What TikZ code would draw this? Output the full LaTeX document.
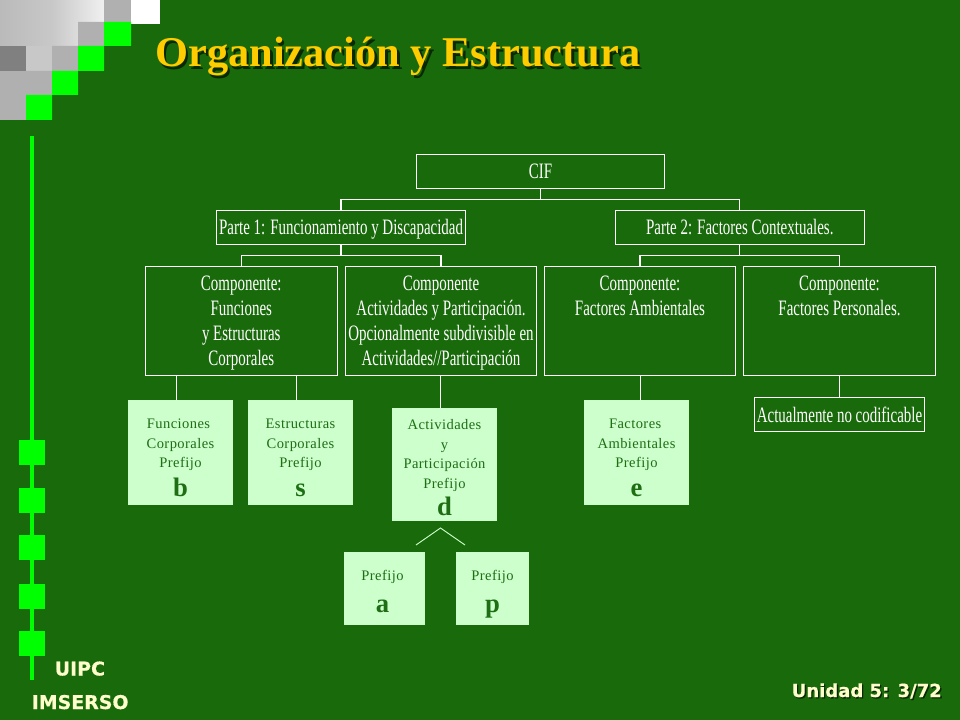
\documentclass[tikz,border=0pt]{standalone}
\usepackage{fontspec}
\setmainfont{Liberation Serif}
\newfontfamily\condfont[FakeStretch=0.68]{Liberation Serif}
\newfontfamily\spacedfont[LetterSpace=3]{Liberation Serif}
\newfontfamily\uifont[BoldFeatures={FakeBold=0.5}]{DejaVu Sans}
\definecolor{bgc}{RGB}{25,106,11}
\definecolor{lime}{RGB}{0,255,0}
\definecolor{pale}{RGB}{204,255,204}
\definecolor{inktext}{RGB}{30,110,20}
\definecolor{cream}{RGB}{255,255,204}
\definecolor{gold}{RGB}{255,204,0}
\definecolor{gmid}{RGB}{176,176,176}
\definecolor{gdark}{RGB}{128,128,128}
\definecolor{gA}{RGB}{186,186,186}
\definecolor{gB}{RGB}{200,200,200}
\definecolor{gC}{RGB}{240,240,240}
\definecolor{shadowc}{RGB}{10,40,5}
\tikzset{
  outline/.style={draw=white,line width=1pt,text=white,inner sep=0pt,align=center,
    font=\condfont\fontsize{16.5}{18.6}\selectfont},
  palebox/.style={fill=pale,inner sep=0pt,align=center,text=inktext,
    font=\spacedfont\fontsize{10.9}{14.6}\selectfont},
  link/.style={draw=white,line width=1pt},
  footer/.style={font=\uifont\bfseries\fontsize{14.2}{15}\selectfont,text=cream,inner sep=0pt},
}
\newcommand{\letr}[1]{\smash{\rmfamily\bfseries\fontsize{20}{20}\selectfont #1}}
\newcommand{\tstrut}[1]{\rule{0pt}{#1}}
\newcommand{\shadowed}[3]{\makebox[0pt][l]{\hspace*{#1}\raisebox{-#1}{\textcolor{shadowc}{#3}}}#3}
\begin{document}
\begin{tikzpicture}[x=0.75pt,y=-0.75pt]
\useasboundingbox (0,0) rectangle (960,720);
\fill[bgc] (0,0) rectangle (960,720);
% corner mosaic
\fill[gmid] (0,71) rectangle (26,120);
\begin{scope}
\clip (0,0) -- (104,0) -- (104,22) -- (78,22) -- (78,46) -- (52,46) -- (52,71) -- (26,71) -- (26,46) -- (0,46) -- cycle;
\shade[left color=gA,right color=gC,middle color=gB] (0,0) rectangle (104,71);
\end{scope}
\fill[gB] (26,46) rectangle (52,71);
\fill[gdark] (0,46) rectangle (26,71);
\fill[gmid] (104,0) rectangle (131,22) (78,22) rectangle (104,46) (52,46) rectangle (78,71) (26,71) rectangle (52,95);
\fill[white] (131,0) rectangle (160,24);
\fill[lime] (104,22) rectangle (131,46) (78,46) rectangle (104,71) (52,71) rectangle (78,95) (26,95) rectangle (52,120);
% side bar
\fill[lime] (30,136) rectangle (34,680);
\foreach \yy in {440,488,535,584,631}{\fill[lime] (19,\yy) rectangle (45,\yy+25);}
% title
\node[anchor=base west,inner sep=0pt,text=gold,font=\bfseries\fontsize{31.8}{33}\selectfont] (title) at (155,67) {\shadowed{2pt}{}{Organización y Estructura}};
% outline boxes
\node[outline,minimum width=186pt,minimum height=25.3pt] (cif) at (540.6,171.5) {CIF};
\node[outline,minimum width=186.6pt,minimum height=25.3pt] (p1) at (341.1,227.5) {\tstrut{14.5pt}Parte 1: Funcionamiento y Discapacidad};
\node[outline,minimum width=186.6pt,minimum height=25.3pt] (p2) at (739.8,227.5) {Parte 2: Factores Contextuales.};
\node[outline,minimum width=144pt,minimum height=81.7pt] (c1) at (241.3,320.8) {\tstrut{14.5pt}Componente:\\Funciones\\y Estructuras\\Corporales};
\node[outline,minimum width=143.6pt,minimum height=81.7pt] (c2) at (441,320.8) {\tstrut{14.5pt}Componente\\Actividades y Participación.\\Opcionalmente subdivisible en\\Actividades//Participación};
\node[outline,minimum width=143.6pt,minimum height=81.7pt] (c3) at (640,320.8) {Componente:\\Factores Ambientales\\~\\~};
\node[outline,minimum width=144pt,minimum height=81.7pt] (c4) at (839.5,320.8) {Componente:\\Factores Personales.\\~\\~};
\node[outline,minimum width=127.8pt,minimum height=25.8pt] (nc) at (839.5,414.5) {Actualmente no codificable};
% pale boxes
\node[palebox,minimum width=78.75pt,minimum height=78.75pt] (b) at (180.5,452.5) {\tstrut{15.5pt}Funciones\hspace*{3pt}\\Corporales\hspace*{3pt}\\Prefijo\hspace*{3pt}\\[7.4pt]\letr{b}};
\node[palebox,minimum width=78.75pt,minimum height=78.75pt] (s) at (300.5,452.5) {\tstrut{15.5pt}Estructuras\\Corporales\\Prefijo\\[7.4pt]\letr{s}};
\node[palebox,minimum width=78.75pt,minimum height=84.75pt] (d) at (444.5,464.5) {\tstrut{12.1pt}Actividades\\y\\Participación\\Prefijo\\[6pt]\letr{d}};
\node[palebox,minimum width=78.75pt,minimum height=78.75pt] (e) at (636.5,452.5) {\tstrut{15.5pt}Factores\hspace*{2pt}\\Ambientales\hspace*{2pt}\\Prefijo\hspace*{2pt}\\[7.4pt]\letr{e}};
\node[palebox,minimum width=60.75pt,minimum height=54.75pt] (a) at (384.5,588.5) {\tstrut{12pt}Prefijo\hspace*{3pt}\\[9.2pt]\letr{a}\hspace*{3pt}};
\node[palebox,minimum width=54.75pt,minimum height=54.75pt] (p) at (492.5,588.5) {\tstrut{12pt}Prefijo\\[9.2pt]\letr{p}};
% connectors
\coordinate (j0) at (cif.south |- 0,199.5);
\draw[link] (cif.south) -- (j0);
\draw[link] (p1.north) |- (j0);
\draw[link] (p2.north) |- (j0);
\coordinate (j1) at (p1.south |- 0,255.5);
\draw[link] (p1.south) -- (j1);
\draw[link] (c1.north) |- (j1);
\draw[link] (c2.north) |- (j1);
\coordinate (j2) at (p2.south |- 0,255.5);
\draw[link] (p2.south) -- (j2);
\draw[link] (c3.north) |- (j2);
\draw[link] (c4.north) |- (j2);
\draw[link] ([xshift=-3pt]b.north) -- ([xshift=-3pt]b.north |- c1.south);
\draw[link] ([xshift=-3pt]s.north) -- ([xshift=-3pt]s.north |- c1.south);
\draw[link] ([xshift=-3pt]d.north) -- ([xshift=-3pt]d.north |- c2.south);
\draw[link] ([xshift=3pt]e.north) -- ([xshift=3pt]e.north |- c3.south);
\draw[link] (nc.north) -- (c4.south);
% chevron
\coordinate (apex) at (440.5,528);
\coordinate (la) at (416,545);
\coordinate (lp) at (465,545);
\draw[draw=pale,line width=0.7pt] (la) -- (apex) -- (lp);
% footers
\node[footer,anchor=base west] (uipc) at (54.5,675.5) {UIPC};
\node[footer,anchor=base west] (ims) at (31.5,709) {IMSERSO};
\node[footer,anchor=base east,font=\uifont\bfseries\fontsize{13.5}{15}\selectfont] (un) at (942,697) {\shadowed{1pt}{}{Unidad 5: 3/72}};
\end{tikzpicture}
\end{document}
